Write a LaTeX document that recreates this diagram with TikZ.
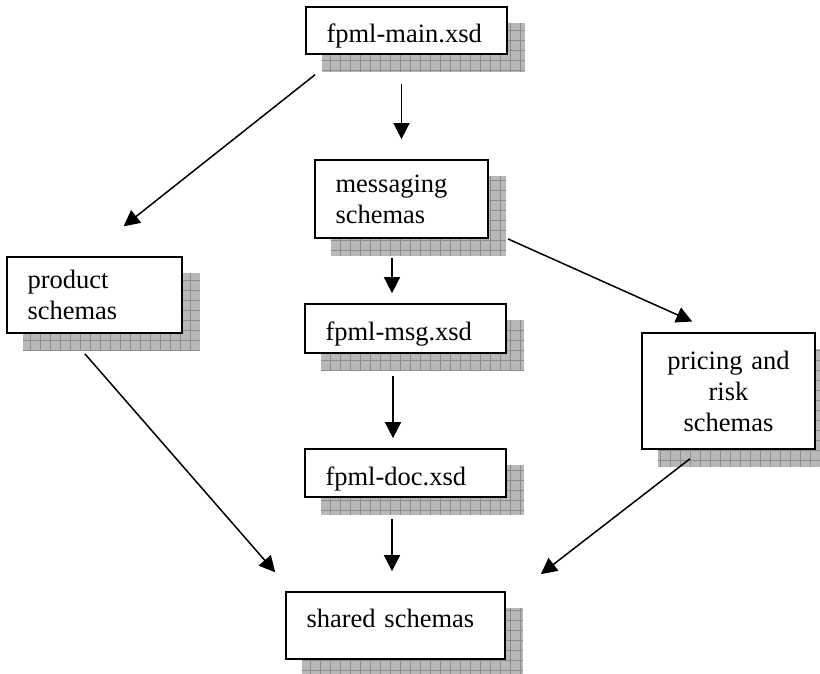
\documentclass[tikz,border=0pt]{standalone}
\usepackage{fontspec}
\setmainfont{Liberation Serif}
\usetikzlibrary{arrows.meta,backgrounds}
\tikzset{
  >=Stealth,
  every picture/.append style={line width=1.3pt},
}
\tikzset{
  box/.style={draw, fill=white, line width=1.7pt, align=left, inner xsep=20.5pt, inner ysep=0pt, font=\fontsize{26.5}{31}\selectfont},
  arrow/.style={-{Triangle[length=16pt,width=16pt]}, line width=1.5pt},
  shadowbox/.style={fill=black!28, draw=none}
}

\begin{document}
\begin{tikzpicture}[
  x=1pt, y=-1pt,
  gridline/.style={draw=black!45, line width=0.8pt},
  onebox/.style={box, text width=160pt},
]
\useasboundingbox (0,0) rectangle (820,673);

% --- Boxes ---
\node[onebox, text height=35pt, text depth=12pt] (main) at (406.5,30.5) {fpml-main.xsd};
\node[box, text width=132pt, minimum height=78pt] (messaging) at (401.5,199) {messaging\\schemas};
\node[box, text width=134pt, minimum height=76pt] (product) at (94.5,295) {product\\schemas};
\node[onebox, text height=36pt, text depth=13pt] (msg) at (405.5,328.5) {fpml-msg.xsd};
\node[onebox, text height=36pt, text depth=12pt] (doc) at (405.5,473) {fpml-doc.xsd};
\node[box, align=center, text width=132pt, minimum height=116pt] (pricing) at (728.5,391) {pricing and\\risk\\schemas};
\node[box, text width=178pt, text height=35pt, text depth=32pt] (shared) at (395.5,625.5) {shared schemas};

% --- Shadows (behind the boxes) ---
\begin{scope}[on background layer]
\foreach \n in {main,messaging,product,msg,doc,pricing,shared} {
  \fill[shadowbox] ([shift={(17pt,-17pt)}]\n.south west) rectangle ([shift={(17pt,-17pt)}]\n.north east);
  \draw[gridline, step=10pt] ([shift={(17pt,-17pt)}]\n.south west) grid ([shift={(17pt,-17pt)}]\n.north east);
}
\end{scope}

% --- Arrows ---
\draw[arrow, shorten <=32pt, shorten >=48pt] ([xshift=35pt]main.south west) -- ([xshift=-8.5pt]product.north);
\draw[arrow, shorten <=29pt, shorten >=20pt] (main.south -| messaging.north) -- (messaging.north);
\draw[arrow, shorten <=0pt, shorten >=26pt] ([xshift=19pt]messaging.south east) -- ([xshift=-12.5pt]pricing.north);
\draw[arrow, shorten <=19pt, shorten >=10pt] ([xshift=-9.5pt]messaging.south) -- ([xshift=-13.5pt]msg.north);
\draw[arrow, shorten <=22pt, shorten >=10pt] ([xshift=-12.5pt]msg.south) -- ([xshift=-12.5pt]doc.north);
\draw[arrow, shorten <=21pt, shorten >=20pt] ([xshift=-13.5pt]doc.south) -- ([xshift=-3.5pt]shared.north);
\draw[arrow, shorten <=26.5pt, shorten >=25pt] ([xshift=-27pt]product.south) -- ([xshift=6.5pt]shared.north west);
\draw[arrow, shorten <=14.6pt, shorten >=27.8pt] ([xshift=-27pt]pricing.south) -- ([xshift=13pt]shared.north east);

\end{tikzpicture}
\end{document}
